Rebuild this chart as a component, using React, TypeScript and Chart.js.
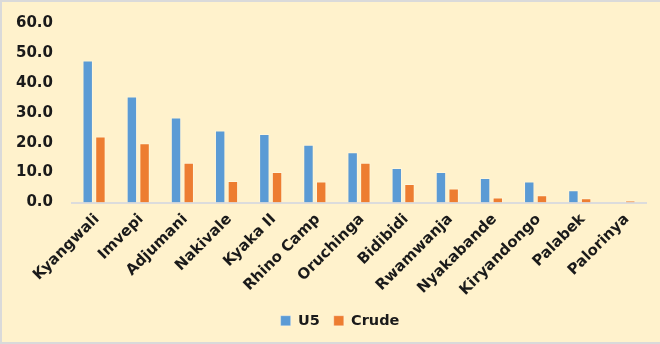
import React, { useEffect, useRef } from "react";
import { Chart, registerables } from "chart.js";

Chart.register(...registerables);

// Settlements, in the order shown along the x axis
const settlements = [
  "Kyangwali",
  "Imvepi",
  "Adjumani",
  "Nakivale",
  "Kyaka II",
  "Rhino Camp",
  "Oruchinga",
  "Bidibidi",
  "Rwamwanja",
  "Nyakabande",
  "Kiryandongo",
  "Palabek",
  "Palorinya",
];

// Under-five rate per settlement
const u5Values = [47.5, 35.4, 28.4, 24.1, 22.9, 19.3, 16.8, 11.5, 10.2, 8.2, 7.0, 4.1, 0];
// Crude rate per settlement
const crudeValues = [22.1, 19.8, 13.3, 7.2, 10.2, 7.0, 13.3, 6.2, 4.7, 1.7, 2.4, 1.4, 0.7];

const yMin = 0;
const yMax = 60;
const yStep = 10;

const BLUE = "#5B9BD5";
const ORANGE = "#ED7D31";
const CREAM = "#FFF2CC";
const FONT = "'DejaVu Sans', Verdana, sans-serif";

// nudges the bottom legend right of centre and lets the long
// rotated category names run past the x scale's box
const LEGEND_NUDGE = 16;
const LABEL_ROOM = 20;
const layoutTweaks = {
  id: "layoutTweaks",
  beforeDraw(chart: any) {
    if (chart.$tweaked) return;
    chart.$tweaked = true;
    const lg = chart.legend;
    if (lg) {
      lg.left += LEGEND_NUDGE;
      lg.right += LEGEND_NUDGE;
    }
    const xs = chart.scales.x;
    if (xs) xs.bottom += LABEL_ROOM;
  },
};

export default function App() {
  const canvasRef = useRef<HTMLCanvasElement | null>(null);

  useEffect(() => {
    document.body.style.margin = "0";
    const canvas = canvasRef.current;
    if (!canvas) return;
    const chart = new Chart(canvas, {
      type: "bar",
      data: {
        labels: settlements,
        datasets: [
          {
            label: "U5",
            data: u5Values,
            backgroundColor: BLUE,
            borderColor: "rgba(255,255,255,0.3)",
            borderWidth: 1,
          },
          {
            label: "Crude",
            data: crudeValues,
            backgroundColor: ORANGE,
            borderColor: "rgba(255,255,255,0.3)",
            borderWidth: 1,
          },
        ],
      },
      plugins: [layoutTweaks],
      options: {
        animation: false,
        responsive: false,
        maintainAspectRatio: false,
        datasets: {
          bar: {
            categoryPercentage: 0.576,
            barPercentage: 0.82,
          },
        },
        layout: {
          padding: { left: 0, right: 14, top: 21, bottom: 4 },
        },
        plugins: {
          legend: {
            position: "bottom",
            labels: {
              boxWidth: 10,
              boxHeight: 10,
              padding: 14,
              color: "#1a1a1a",
              font: { family: FONT, size: 14.5, weight: "bold" },
            },
          },
          tooltip: { enabled: false },
        },
        scales: {
          x: {
            grid: { display: false, drawTicks: false },
            border: { display: true, color: "#dcdcdc", width: 2 },
            afterFit: (scale: any) => {
              scale.height = 97;
              scale.paddingLeft = 0;
              scale.paddingRight = 0;
            },
            ticks: {
              maxRotation: 45,
              minRotation: 45,
              autoSkip: false,
              padding: 8,
              labelOffset: 3,
              color: "#1a1a1a",
              font: { family: FONT, size: 15, weight: "bold" },
            },
          },
          y: {
            min: yMin,
            max: yMax,
            grid: { display: false, drawTicks: false },
            border: { display: false },
            afterFit: (scale: any) => {
              scale.width = 70;
              scale.paddingTop = 0;
              scale.paddingBottom = 0;
            },
            ticks: {
              stepSize: yStep,
              padding: 19,
              color: "#1a1a1a",
              font: { family: FONT, size: 15, weight: "bold" },
              callback: (v) => Number(v).toFixed(1),
            },
          },
        },
      },
    });
    return () => chart.destroy();
  }, []);

  return (
    <div
      style={{
        position: "absolute",
        left: 0,
        top: 0,
        width: 660,
        height: 344,
        background: CREAM,
        boxSizing: "border-box",
        borderLeft: "2px solid #dadada",
        borderTop: "2px solid #dadada",
        borderBottom: "2px solid #dadada",
      }}
    >
      <canvas ref={canvasRef} width={658} height={340} style={{ display: "block" }} />
    </div>
  );
}
